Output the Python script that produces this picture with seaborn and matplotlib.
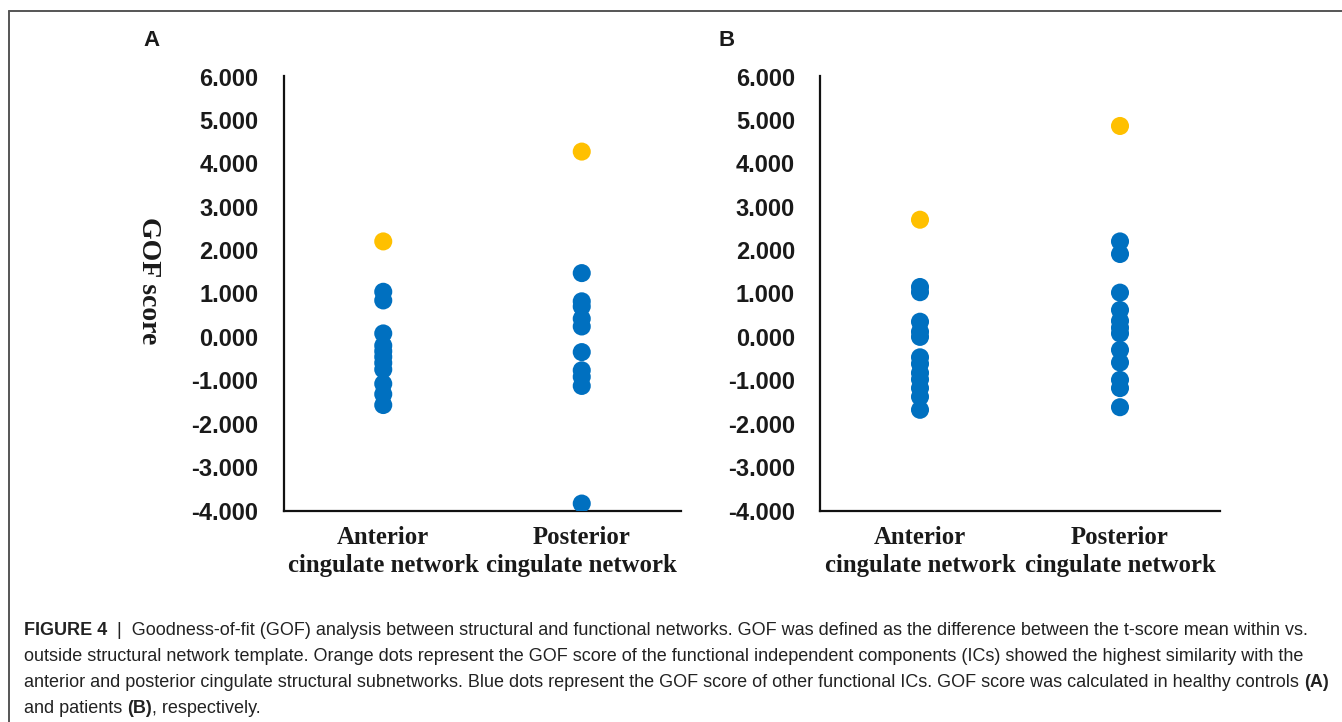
import matplotlib
matplotlib.use("Agg")
import matplotlib.pyplot as plt
from matplotlib.lines import Line2D
from matplotlib.ticker import FixedLocator, FuncFormatter
import pandas as pd
import seaborn as sns

# ---------------------------------------------------------------- data
networks = ["Anterior\ncingulate network", "Posterior\ncingulate network"]
y_ticks = [6, 5, 4, 3, 2, 1, 0, -1, -2, -3, -4]

# Panel A: healthy controls
a_anterior_best = [2.20]
a_anterior_other = [1.04, 0.84, 0.08, -0.20, -0.33, -0.46, -0.60, -0.75, -1.08, -1.32, -1.57]
a_posterior_best = [4.27]
a_posterior_other = [1.47, 0.82, 0.70, 0.42, 0.24, -0.35, -0.77, -0.92, -1.13, -3.84]

# Panel B: patients
b_anterior_best = [2.70]
b_anterior_other = [1.15, 1.03, 0.35, 0.12, 0.0, -0.47, -0.62, -0.83, -0.98, -1.18, -1.38, -1.68]
b_posterior_best = [4.86]
b_posterior_other = [2.20, 1.91, 1.02, 0.62, 0.37, 0.21, 0.08, -0.30, -0.59, -0.99, -1.18, -1.62]

caption_lines = [
    [("FIGURE 4", "bold"),
     ("  |  Goodness-of-fit (GOF) analysis between structural and functional networks. "
      "GOF was defined as the difference between the t-score mean within vs.", "normal")],
    [("outside structural network template. Orange dots represent the GOF score of the "
      "functional independent components (ICs) showed the highest similarity with the", "normal")],
    [("anterior and posterior cingulate structural subnetworks. Blue dots represent the GOF "
      "score of other functional ICs. GOF score was calculated in healthy controls ", "normal"),
     ("(A)", "bold")],
    [("and patients ", "normal"), ("(B)", "bold"), (", respectively.", "normal")],
]

# ---------------------------------------------------------------- style
BLUE = "#0070C0"
ORANGE = "#FFC000"
INK = "#1a1a1a"
W, H = 1342, 722

sns.set_theme(style="white")
plt.rcParams["font.family"] = ["Liberation Sans", "DejaVu Sans"]


def panel_frame(best_ant, other_ant, best_post, other_post):
    rows = []
    for net, best, other in ((networks[0], best_ant, other_ant),
                             (networks[1], best_post, other_post)):
        rows += [(net, v, "other") for v in other]
        rows += [(net, v, "best") for v in best]
    return pd.DataFrame(rows, columns=["network", "gof", "ic"])


def draw_panel(ax, df, tick_pad):
    sns.stripplot(data=df, x="network", y="gof", hue="ic", order=networks,
                  hue_order=["other", "best"],
                  palette={"other": BLUE, "best": ORANGE},
                  jitter=False, size=13, linewidth=0, legend=False, ax=ax)
    ax.set_xlim(-0.5, 1.5)
    ax.set_ylim(-4, 6)
    ax.yaxis.set_major_locator(FixedLocator(y_ticks))
    ax.yaxis.set_major_formatter(FuncFormatter(lambda v, _: f"{v:.3f}"))
    ax.set_xlabel("")
    ax.set_ylabel("")
    for side in ("top", "right"):
        ax.spines[side].set_visible(False)
    for side in ("left", "bottom"):
        ax.spines[side].set_color("#111111")
        ax.spines[side].set_linewidth(1.6)
    ax.tick_params(axis="y", length=0, pad=tick_pad, labelsize=17, labelcolor=INK)
    ax.tick_params(axis="x", length=0, pad=11.5, labelcolor=INK)
    for lab in ax.get_yticklabels():
        lab.set_fontweight("bold")
    for lab in ax.get_xticklabels():
        lab.set_fontfamily("Liberation Serif")
        lab.set_fontweight("bold")
        lab.set_fontsize(17.8)
        lab.set_linespacing(1.25)
    ax.set_facecolor("none")


fig = plt.figure(figsize=(W / 100, H / 100), dpi=100)
fig.patch.set_facecolor("white")

bottom = 1 - 510.5 / H
height = (510.5 - 76.5) / H
ax_a = fig.add_axes([284 / W, bottom, (681 - 284) / W, height])
ax_b = fig.add_axes([820 / W, bottom, (1220 - 820) / W, height])

draw_panel(ax_a, panel_frame(a_anterior_best, a_anterior_other,
                             a_posterior_best, a_posterior_other), 18.5)
draw_panel(ax_b, panel_frame(b_anterior_best, b_anterior_other,
                             b_posterior_best, b_posterior_other), 18.0)

# panel letters and shared y label
fig.text(152 / W, 1 - 40 / H, "A", fontsize=16, fontweight="bold", color=INK,
         ha="center", va="center")
fig.text(727 / W, 1 - 40 / H, "B", fontsize=16, fontweight="bold", color=INK,
         ha="center", va="center")
fig.text(148 / W, 1 - 281 / H, "GOF score", rotation=-90, fontsize=20,
         fontfamily="Liberation Serif", fontweight="bold", color=INK,
         ha="center", va="center")

# outer frame (top and left edges)
frame_kw = dict(color="#555555", linewidth=1.4, transform=fig.transFigure)
fig.add_artist(Line2D([9 / W, 9 / W], [0, 1 - 11 / H], **frame_kw))
fig.add_artist(Line2D([9 / W, 1], [1 - 11 / H, 1 - 11 / H], **frame_kw))

# caption, drawn run by run so bold pieces sit inline
renderer = fig.canvas.get_renderer()
cap_size = 13.0
baselines = [635, 661, 687, 713]
for runs, base in zip(caption_lines, baselines):
    x = 24
    for txt, weight in runs:
        t = fig.text(x / W, 1 - base / H, txt, fontsize=cap_size, fontweight=weight,
                     color="#222222", ha="left", va="baseline")
        x += t.get_window_extent(renderer).width

fig.savefig("out.png", dpi=100)
